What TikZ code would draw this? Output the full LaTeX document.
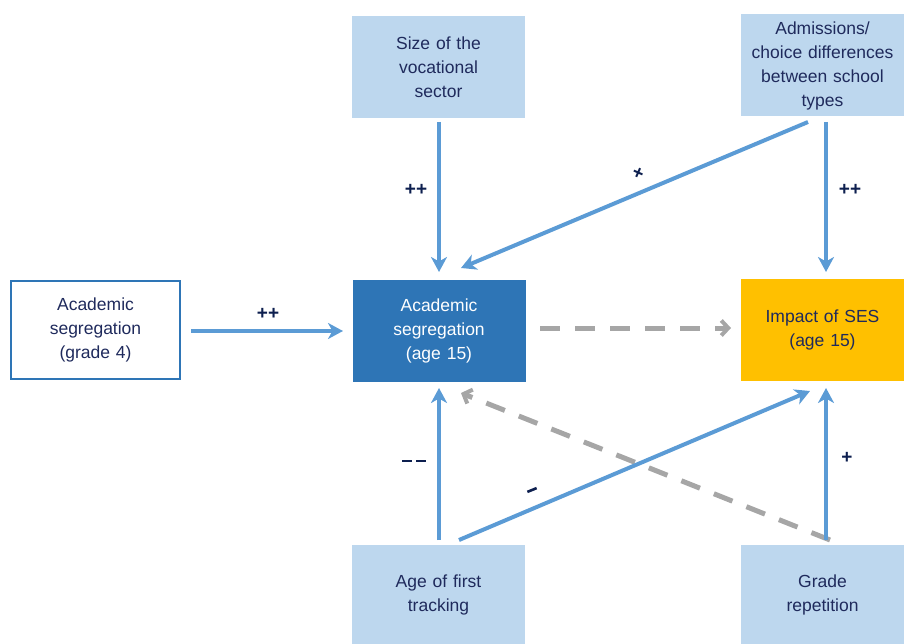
\documentclass[tikz,border=0pt]{standalone}
\usepackage{fontspec}
\setmainfont{Liberation Sans}
\usetikzlibrary{arrows.meta}
\definecolor{lightbox}{HTML}{BDD7EE}
\definecolor{darkbox}{HTML}{2E75B6}
\definecolor{goldbox}{HTML}{FFC000}
\definecolor{arrowblue}{HTML}{5B9BD5}
\definecolor{dashgray}{HTML}{A6A6A6}
\definecolor{navytext}{HTML}{1F2A5C}
\definecolor{labelnavy}{HTML}{0D1F4F}
\tikzset{
  box/.style={minimum width=173pt, minimum height=102pt, inner sep=2pt, align=center,
    text width=165pt, font=\fontsize{17.5}{24}\selectfont, text=navytext},
  lbox/.style={box, fill=lightbox},
  blink/.style={draw=arrowblue, line width=4pt, -{Stealth[length=15pt,width=16pt,inset=4.5pt]}},
  glink/.style={draw=dashgray, line width=5pt, dash pattern=on 20pt off 15pt,
    -{Straight Barb[length=7pt,width=15pt,line width=4pt]}},
  sign/.style={font=\bfseries\fontsize{19}{19}\selectfont, text=labelnavy},
}
\begin{document}
\begin{tikzpicture}[x=1pt,y=-1pt]
\useasboundingbox (0,0) rectangle (904,644);
\node[lbox] (size) at (438.5,67) {Size of the\\vocational\\sector};
\node[lbox, minimum width=163pt, text width=159pt] (adm) at (822.5,65.5) {Admissions/\\choice differences\\between school\\types};
\node[box, draw=darkbox, line width=2pt, minimum width=169pt, text width=160pt, minimum height=98pt] (g4) at (95.5,330) {Academic\\segregation\\(grade 4)};
\node[box, fill=darkbox, text=white] (a15) at (439,330.5) {Academic\\segregation\\(age 15)};
\node[box, fill=goldbox, minimum width=163pt, text width=159pt] (ses) at (822.5,330) {Impact of SES\\(age 15)};
\node[lbox, minimum height=100pt] (trk) at (438.5,595) {Age of first\\tracking};
\node[lbox, minimum width=163pt, text width=159pt, minimum height=100pt] (rep) at (822.5,595) {Grade\\repetition};

\coordinate (s1) at (439,122); \coordinate (s2) at (439,272);
\coordinate (d1) at (808,122); \coordinate (d2) at (461,268);
\coordinate (e1) at (826,122); \coordinate (e2) at (826,272);
\coordinate (h1) at (191,331); \coordinate (h2) at (343,331);
\coordinate (m1) at (540,328); \coordinate (m2) at (731,328);
\coordinate (t1) at (439,540); \coordinate (t2) at (439,388);
\coordinate (u1) at (459,540); \coordinate (u2) at (810,391);
\coordinate (r1) at (830,540); \coordinate (r2) at (461,393);
\coordinate (q1) at (826,540); \coordinate (q2) at (826,388);

\draw[glink] (m1) -- (m2);
\draw[glink] (r1) -- (r2);
\draw[blink] (s1) -- (s2);
\draw[blink] (d1) -- (d2);
\draw[blink] (e1) -- (e2);
\draw[blink] (h1) -- (h2);
\draw[blink] (t1) -- (t2);
\draw[blink] (u1) -- (u2);
\draw[blink] (q1) -- (q2);

\node[sign] (l1) at (416,190) {++};
\node[sign, rotate=-24] (l2) at (638,174) {+};
\node[sign] (l3) at (850,190) {++};
\node[sign] (l4) at (268,314) {++};
\node[sign] (l5) at (414,461) {\rule{10pt}{2.6pt}\hspace{4pt}\rule{10pt}{2.6pt}};
\node[sign, rotate=22] (l6) at (532,490) {\rule{10pt}{2.6pt}};
\node[sign] (l7) at (847,458) {+};
\end{tikzpicture}
\end{document}
